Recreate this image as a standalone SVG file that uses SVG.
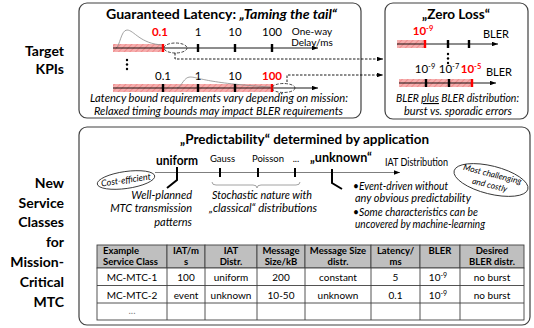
<svg xmlns="http://www.w3.org/2000/svg" width="534" height="328" viewBox="0 0 534 328">
<style>
text{font-family:Lato,"Liberation Sans",Arial,sans-serif;fill:#000}
.box{fill:#fff;stroke:#404040;stroke-width:1.2}
.b{font-weight:bold}
.i{font-style:italic}
.red{fill:#ff0000}
.axis{stroke:#000;stroke-width:0.9;fill:none}
.tick{stroke:#000;stroke-width:2.4}
.stick{stroke:#000;stroke-width:2}
.rtick{stroke:#ff0000;stroke-width:2.4}
.curve{stroke:#8c8c8c;stroke-width:0.8;fill:none}
.dash{stroke:#000;stroke-width:0.9;fill:none;stroke-dasharray:2.5,1.5}
.dell{stroke:#333;stroke-width:0.9;fill:none;stroke-dasharray:3,1.5}
.lbl{font-size:14px;font-weight:bold;text-anchor:end}
.num{font-size:11.5px;text-anchor:middle}
.it{font-size:11px;font-style:italic}
.cell{fill:#fff;stroke:#404040;stroke-width:0.9}
.hcell{fill:#bfbfbf;stroke:#404040;stroke-width:0.9}
.th{font-size:9.5px;font-weight:bold;text-anchor:middle}
.thl{text-anchor:start}
.td{font-size:10px;text-anchor:middle}
.gray{fill:#7f7f7f}
</style>
<defs>
<pattern id="hatch" width="4" height="4" patternUnits="userSpaceOnUse" patternTransform="rotate(45)">
<rect width="4" height="4" fill="#f6adad"/>
<line x1="0" y1="0" x2="0" y2="4" stroke="#ec8383" stroke-width="1.6"/>
</pattern>
<marker id="arr" viewBox="0 0 8 6" refX="8" refY="3" markerWidth="6" markerHeight="4.5" markerUnits="userSpaceOnUse" orient="auto">
<path d="M0,0 L8,3 L0,6 z" fill="#000"/>
</marker>
</defs>

<g id="labels-left">
<text class="lbl" x="64" y="56">Target</text>
<text class="lbl" x="64" y="74">KPIs</text>
<text class="lbl" x="64" y="188">New</text>
<text class="lbl" x="64" y="208">Service</text>
<text class="lbl" x="64" y="227">Classes</text>
<text class="lbl" x="64" y="247">for</text>
<text class="lbl" x="64" y="267">Mission-</text>
<text class="lbl" x="64" y="287">Critical</text>
<text class="lbl" x="64" y="307">MTC</text>
</g>

<g id="latency">
<rect class="box" x="79" y="3" width="282" height="115" rx="8"/>
<text x="106" y="19" font-size="14" font-weight="bold" textLength="231" lengthAdjust="spacingAndGlyphs">Guaranteed Latency: <tspan font-style="italic">„Taming the tail“</tspan></text>
<rect x="113" y="44" width="50" height="8" fill="url(#hatch)"/>
<path class="curve" d="M116,48 C120,46 121,30 127,30 C134,30 140,44 163,45"/>
<line class="axis" x1="113" y1="48" x2="318" y2="48" marker-end="url(#arr)"/>
<line class="rtick" x1="163" y1="44" x2="163" y2="52"/>
<line class="tick" x1="198" y1="44" x2="198" y2="52"/>
<line class="tick" x1="235" y1="44" x2="235" y2="52"/>
<line class="tick" x1="272" y1="44" x2="272" y2="52"/>
<ellipse class="dell" cx="175.5" cy="48" rx="11.5" ry="5"/>
<text class="num b red" x="160" y="36">0.1</text>
<text class="num" x="198" y="36">1</text>
<text class="num" x="235" y="36">10</text>
<text class="num" x="272" y="36">100</text>
<text x="312" y="35" font-size="10" text-anchor="middle">One-way</text>
<text x="312" y="46" font-size="10" text-anchor="middle">Delay/ms</text>
<circle cx="127" cy="60" r="1.2"/>
<circle cx="127" cy="64.5" r="1.2"/>
<circle cx="127" cy="69" r="1.2"/>
<rect x="113" y="84" width="159" height="8" fill="url(#hatch)"/>
<path class="curve" d="M177,88 C182,86 184,77 190,77 C198,77 205,83 270,87"/>
<line class="axis" x1="113" y1="88" x2="318" y2="88" marker-end="url(#arr)"/>
<line class="tick" x1="163" y1="84" x2="163" y2="92"/>
<line class="tick" x1="198" y1="84" x2="198" y2="92"/>
<line class="tick" x1="235" y1="84" x2="235" y2="92"/>
<line class="rtick" x1="272" y1="84" x2="272" y2="92"/>
<ellipse class="dell" cx="283.5" cy="88" rx="11.5" ry="4.5"/>
<text class="num" x="163" y="80">0.1</text>
<text class="num" x="198" y="80">1</text>
<text class="num" x="235" y="80">10</text>
<text class="num b red" x="272" y="80">100</text>
<text class="it" x="90" y="102" textLength="258" lengthAdjust="spacingAndGlyphs">Latency bound requirements vary depending on mission:</text>
<text class="it" x="94" y="115" textLength="249" lengthAdjust="spacingAndGlyphs">Relaxed timing bounds  may impact BLER requirements</text>
</g>

<g id="zero-loss">
<rect class="box" x="385" y="3" width="143" height="116" rx="8"/>
<text x="456" y="19" font-size="14" font-weight="bold" text-anchor="middle" textLength="68" lengthAdjust="spacingAndGlyphs">„Zero Loss“</text>
<rect x="397" y="40" width="28" height="8" fill="url(#hatch)"/>
<line class="axis" x1="397" y1="44" x2="498" y2="44" marker-end="url(#arr)"/>
<line class="rtick" x1="425" y1="40" x2="425" y2="48"/>
<line class="tick" x1="448" y1="40" x2="448" y2="48"/>
<line class="tick" x1="469" y1="40" x2="469" y2="48"/>
<text class="num b red" x="423" y="35">10<tspan font-size="7.5" dy="-4">-9</tspan></text>
<text x="496" y="38" font-size="11" text-anchor="middle">BLER</text>
<circle cx="448" cy="54" r="1.2"/>
<circle cx="448" cy="58.5" r="1.2"/>
<circle cx="448" cy="63" r="1.2"/>
<rect x="399" y="79" width="73" height="8" fill="url(#hatch)"/>
<line class="axis" x1="399" y1="83" x2="496" y2="83" marker-end="url(#arr)"/>
<line class="tick" x1="426" y1="79" x2="426" y2="87"/>
<line class="tick" x1="449" y1="79" x2="449" y2="87"/>
<line class="rtick" x1="472" y1="79" x2="472" y2="87"/>
<text class="num" x="425" y="73">10<tspan font-size="7.5" dy="-4">-9</tspan></text>
<text class="num" x="449" y="73">10<tspan font-size="7.5" dy="-4">-7</tspan></text>
<text class="num b red" x="471" y="73">10<tspan font-size="7.5" dy="-4">-5</tspan></text>
<text x="499" y="76" font-size="11" text-anchor="middle">BLER</text>
<text class="it" x="457.5" y="102" text-anchor="middle" textLength="123" lengthAdjust="spacingAndGlyphs">BLER <tspan text-decoration="underline">plus</tspan> BLER distribution:</text>
<text class="it" x="458" y="115" text-anchor="middle" textLength="108" lengthAdjust="spacingAndGlyphs">burst vs. sporadic errors</text>
</g>

<g id="connectors">
<path class="dash" d="M175,53 V59 H383" marker-end="url(#arr)"/>
<path class="dash" d="M287,82 V75 H383" marker-end="url(#arr)"/>
</g>

<g id="service-classes">
<rect class="box" x="79" y="127" width="451" height="198" rx="8"/>
<text x="304.5" y="144" font-size="14" font-weight="bold" text-anchor="middle" textLength="249" lengthAdjust="spacingAndGlyphs">„Predictability“ determined by application</text>
<line x1="155" y1="172.5" x2="400" y2="172.5" stroke="#7f7f7f" stroke-width="1.1" marker-end="url(#arr)"/>
<g transform="rotate(-8 126 180)">
<ellipse cx="126" cy="180" rx="29" ry="8.5" fill="#fff" stroke="#333" stroke-width="0.9"/>
<text x="126" y="183" font-size="9" font-style="italic" text-anchor="middle">Cost-efficient</text>
</g>
<path d="M177,167 V180 L167,188" stroke="#000" stroke-width="2" fill="none"/>
<text x="177" y="165" font-size="13" font-weight="bold" text-anchor="middle" textLength="42" lengthAdjust="spacingAndGlyphs">uniform</text>
<line class="stick" x1="220" y1="168" x2="220" y2="177"/>
<line class="stick" x1="258" y1="168" x2="258" y2="177"/>
<line class="stick" x1="295" y1="168" x2="295" y2="177"/>
<text x="222.5" y="162" font-size="9.5" text-anchor="middle">Gauss</text>
<text x="268" y="162" font-size="9.5" text-anchor="middle">Poisson</text>
<text x="296" y="162" font-size="9.5" text-anchor="middle">...</text>
<path d="M212,182 Q212,185 216,185 H253 Q257,185 257,188 Q257,185 261,185 H296 Q300,185 300,182" stroke="#8c8c8c" stroke-width="0.8" fill="none"/>
<text class="it" x="192" y="199" text-anchor="end">Well-planned</text>
<text class="it" x="192" y="212" text-anchor="end">MTC transmission</text>
<text class="it" x="192" y="226" text-anchor="end">patterns</text>
<text class="it" x="262" y="199" text-anchor="middle" textLength="100" lengthAdjust="spacingAndGlyphs">Stochastic nature with</text>
<text class="it" x="263" y="212" text-anchor="middle" textLength="108" lengthAdjust="spacingAndGlyphs">„classical“ distributions</text>
<text x="341" y="162" font-size="13" font-weight="bold" text-anchor="middle" textLength="62" lengthAdjust="spacingAndGlyphs">„unknown“</text>
<path d="M332,169 V183 L342,189" stroke="#000" stroke-width="2" fill="none"/>
<text x="385" y="166" font-size="11" textLength="63" lengthAdjust="spacingAndGlyphs">IAT Distribution</text>
<text class="it" x="353" y="190" textLength="95" lengthAdjust="spacingAndGlyphs">•Event-driven without</text>
<text class="it" x="355" y="202" textLength="116" lengthAdjust="spacingAndGlyphs">any  obvious predictability</text>
<text class="it" x="353" y="216" textLength="125" lengthAdjust="spacingAndGlyphs">•Some characteristics can be</text>
<text class="it" x="355" y="228" textLength="130" lengthAdjust="spacingAndGlyphs">uncovered by machine-learning</text>
<g transform="rotate(14 491 180)">
<ellipse cx="491" cy="180" rx="38" ry="14" fill="#fff" stroke="#333" stroke-width="0.9"/>
<text x="491" y="177" font-size="8.5" font-style="italic" text-anchor="middle">Most challenging</text>
<text x="491" y="188" font-size="8.5" font-style="italic" text-anchor="middle">and costly</text>
</g>
</g>

<g id="table">
<rect class="hcell" x="97" y="245" width="70" height="23"/>
<rect class="hcell" x="167" y="245" width="38" height="23"/>
<rect class="hcell" x="205" y="245" width="52" height="23"/>
<rect class="hcell" x="257" y="245" width="48" height="23"/>
<rect class="hcell" x="305" y="245" width="66" height="23"/>
<rect class="hcell" x="371" y="245" width="49" height="23"/>
<rect class="hcell" x="420" y="245" width="40" height="23"/>
<rect class="hcell" x="460" y="245" width="64" height="23"/>
<rect class="cell" x="97" y="268" width="427" height="52"/>
<line x1="97" y1="285.5" x2="524" y2="285.5" stroke="#404040" stroke-width="0.9"/>
<line x1="97" y1="303" x2="524" y2="303" stroke="#404040" stroke-width="0.9"/>
<g stroke="#404040" stroke-width="0.9">
<line x1="167" y1="268" x2="167" y2="320"/>
<line x1="205" y1="268" x2="205" y2="320"/>
<line x1="257" y1="268" x2="257" y2="320"/>
<line x1="305" y1="268" x2="305" y2="320"/>
<line x1="371" y1="268" x2="371" y2="320"/>
<line x1="420" y1="268" x2="420" y2="320"/>
<line x1="460" y1="268" x2="460" y2="320"/>
</g>
<text class="th thl" x="103" y="254">Example</text>
<text class="th thl" x="103" y="265">Service Class</text>
<text class="th" x="186" y="254">IAT/m</text>
<text class="th" x="186" y="265">s</text>
<text class="th" x="231" y="254">IAT</text>
<text class="th" x="231" y="265">Distr.</text>
<text class="th" x="281" y="254">Message</text>
<text class="th" x="281" y="265">Size/kB</text>
<text class="th" x="338" y="254">Message Size</text>
<text class="th" x="338" y="265">distr.</text>
<text class="th" x="395.5" y="254">Latency/</text>
<text class="th" x="395.5" y="265">ms</text>
<text class="th" x="440" y="254">BLER</text>
<text class="th" x="492" y="254">Desired</text>
<text class="th" x="492" y="265">BLER distr.</text>
<text class="td" x="132" y="281">MC-MTC-1</text>
<text class="td" x="186" y="281">100</text>
<text class="td" x="231" y="281">uniform</text>
<text class="td" x="281" y="281">200</text>
<text class="td" x="338" y="281">constant</text>
<text class="td" x="395.5" y="281">5</text>
<text class="td" x="438" y="281">10<tspan font-size="7" dy="-3">-9</tspan></text>
<text class="td" x="492" y="281">no burst</text>
<text class="td" x="132" y="298.5">MC-MTC-2</text>
<text class="td" x="186" y="298.5">event</text>
<text class="td" x="231" y="298.5">unknown</text>
<text class="td" x="281" y="298.5">10-50</text>
<text class="td" x="338" y="298.5">unknown</text>
<text class="td" x="395.5" y="298.5">0.1</text>
<text class="td" x="438" y="298.5">10<tspan font-size="7" dy="-3">-9</tspan></text>
<text class="td" x="492" y="298.5">no burst</text>
<text class="td gray" x="132" y="314" font-size="8">...</text>
</g>
</svg>
